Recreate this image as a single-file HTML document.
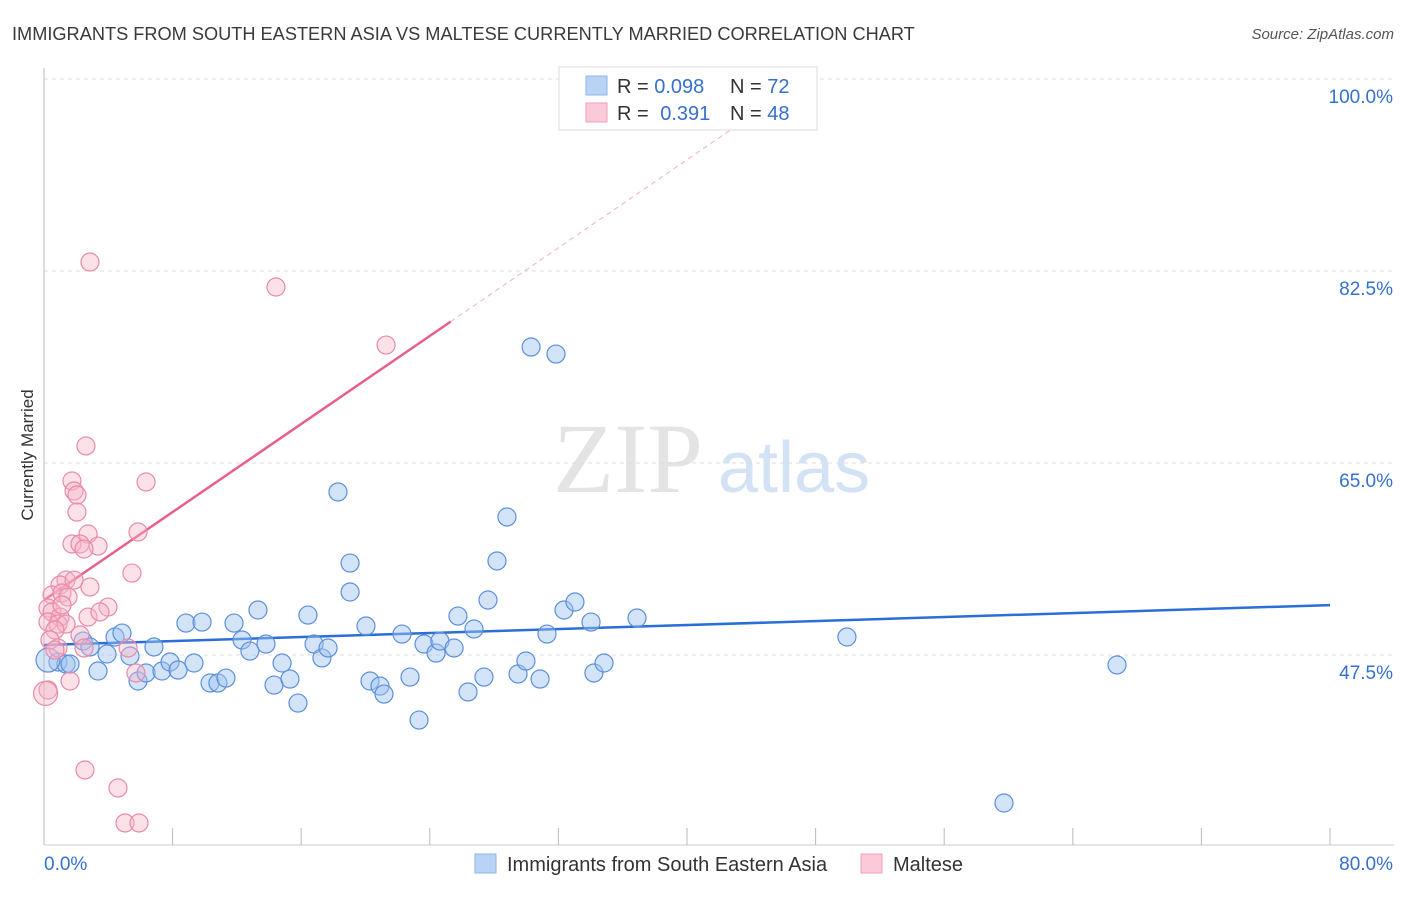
<!DOCTYPE html>
<html><head><meta charset="utf-8"><style>
body{margin:0;background:#fff;font-family:"Liberation Sans",sans-serif}
svg text{font-family:"Liberation Sans",sans-serif}
</style></head><body>
<svg id="chart" width="1406" height="892" xmlns="http://www.w3.org/2000/svg">
<text x="12" y="40" font-size="18.2" fill="#3a3a3a">IMMIGRANTS FROM SOUTH EASTERN ASIA VS MALTESE CURRENTLY MARRIED CORRELATION CHART</text>
<text x="1394" y="39" font-size="15" fill="#555" text-anchor="end" font-style="italic">Source: ZipAtlas.com</text>
<text transform="translate(33,455) rotate(-90)" font-size="17" fill="#333" text-anchor="middle">Currently Married</text>
<g><text x="553" y="492" font-size="100" fill="#e4e4e4" style="font-family:'Liberation Serif',serif">ZIP</text><text x="718" y="492" font-size="72" fill="#d3e2f5">atlas</text></g>
<g id="grid"></g><g id="ticks"></g>
<g id="lines"></g>
<g id="blue"></g><g id="pink"></g>
<g>
<rect x="559" y="67" width="258" height="63" fill="#fff" stroke="#ddd"/>
<rect x="586" y="76" width="21" height="19" fill="#b9d3f5" stroke="#8fb3e8"/>
<rect x="586" y="103" width="21" height="19" fill="#fbc9d8" stroke="#f0a0b8"/>
<text x="617" y="93" font-size="20" fill="#333">R = <tspan fill="#3570d0">0.098</tspan></text>
<text x="730" y="93" font-size="20" fill="#333">N = <tspan fill="#3570d0">72</tspan></text>
<text x="617" y="120" font-size="20" fill="#333">R = <tspan fill="#3570d0" dx="6">0.391</tspan></text>
<text x="730" y="120" font-size="20" fill="#333">N = <tspan fill="#3570d0">48</tspan></text>
</g>
<g>
<rect x="475" y="854" width="21" height="19" fill="#b9d3f5" stroke="#8fb3e8"/>
<text x="507" y="871" font-size="20" fill="#333">Immigrants from South Eastern Asia</text>
<rect x="861" y="854" width="21" height="19" fill="#fbc9d8" stroke="#f0a0b8"/>
<text x="893" y="871" font-size="20" fill="#333">Maltese</text>
</g>
<text x="44" y="870" font-size="19" fill="#3570d0">0.0%</text>
<text x="1393" y="870" font-size="19" fill="#3570d0" text-anchor="end">80.0%</text>
</svg>
<script>
const yTicks=[100,82.5,65,47.5];
const yTickLabels=["100.0%","82.5%","65.0%","47.5%"];
const blueX=[0.87,1.37,1.62,3.36,2.43,2.86,3.92,4.42,4.85,5.35,5.85,6.35,6.84,7.34,7.84,8.34,8.83,9.33,9.83,10.33,10.82,11.32,11.82,12.32,12.81,13.31,13.81,14.31,14.81,15.30,15.80,16.42,16.80,17.29,17.67,18.29,19.04,19.04,20.03,20.28,20.90,21.15,22.27,22.77,23.33,23.64,24.39,24.63,25.51,25.75,26.38,26.75,27.37,27.62,28.18,28.80,29.49,29.98,30.30,30.86,31.29,31.85,32.35,33.03,34.03,34.21,34.84,36.89,49.95,59.72,66.75,0.25];
const blueY=[46.86,46.68,46.68,46.04,48.77,48.23,47.59,49.14,49.50,47.41,45.13,45.86,48.23,46.04,46.86,46.13,50.41,46.77,50.50,44.95,44.95,45.40,50.41,48.87,47.86,51.60,48.50,44.76,46.77,45.31,43.12,51.14,48.50,47.23,48.14,62.36,55.88,53.24,50.14,45.13,44.67,43.94,49.41,45.49,41.57,48.50,47.68,48.77,48.14,51.05,44.13,49.87,45.49,52.51,56.07,60.08,45.77,46.95,75.57,45.31,49.41,74.93,51.60,52.33,50.50,45.86,46.77,50.87,49.14,34.01,46.59,47.04];
const pinkX=[2.86,14.43,21.28,2.61,1.74,6.35,1.87,2.05,2.05,5.85,2.74,1.74,2.24,3.36,2.49,1.37,1.00,1.87,5.47,2.86,0.50,1.12,1.49,3.98,0.25,0.50,1.00,2.74,0.25,0.87,1.37,2.24,2.49,0.87,5.23,5.72,1.62,0.25,2.55,4.60,5.04,5.91,0.68,3.48,1.12,0.37,0.68,0.1];
const pinkY=[83.32,81.04,75.75,66.55,63.36,63.27,62.45,62.08,60.53,58.71,58.53,57.62,57.62,57.43,57.16,54.33,53.88,54.33,54.97,53.70,52.97,53.15,52.78,51.87,51.78,51.42,50.96,50.96,50.51,50.32,50.32,49.32,48.14,48.14,48.14,45.86,45.13,44.31,37.02,35.38,32.19,32.19,49.78,51.42,52.06,48.87,47.95,44.0];
const blueTrend=[48.41,52.05];
const pinkTrend=[52.5,1.0035];
const NS="http://www.w3.org/2000/svg";
const X=v=>44+v/80*1286, Y=v=>79+(100-v)/17.5*192;
function mk(t,a,p){const e=document.createElementNS(NS,t);for(const k in a)e.setAttribute(k,a[k]);p.appendChild(e);return e;}
const g=document.getElementById('grid');
yTicks.forEach((t,i)=>{
 const l=mk('line',{x1:44,x2:1394,y1:Y(t),y2:Y(t),stroke:'#ddd','stroke-dasharray':'4,4'},g);
 
 
 const tx=mk('text',{x:1393,y:Y(t)+24,'font-size':19,fill:'#3570d0','text-anchor':'end'},g);
 tx.textContent=yTickLabels[i];
 
 
});
const tk=document.getElementById('ticks');
mk('line',{x1:44,x2:44,y1:68,y2:845,stroke:'#bbb'},tk);
mk('line',{x1:44,x2:1394,y1:845,y2:845,stroke:'#ccc'},tk);
for(let i=1;i<=10;i++){const l=mk('line',{x1:X(i*8),x2:X(i*8),y1:828,y2:845,stroke:'#bbb'},tk);
 
 }
const ln=document.getElementById('lines');
const bl=mk('line',{x1:X(0),y1:Y(blueTrend[0]),x2:X(80),y2:Y(blueTrend[1]),stroke:'#2a6fd6','stroke-width':2.5},ln);


const pe=25.3, pd=(100-pinkTrend[0])/pinkTrend[1];
const pl=mk('line',{x1:X(0),y1:Y(pinkTrend[0]),x2:X(pe),y2:Y(pinkTrend[0]+pinkTrend[1]*pe),stroke:'#e8608a','stroke-width':2.5},ln);


const pdl=mk('line',{x1:X(pe),y1:Y(pinkTrend[0]+pinkTrend[1]*pe),x2:X(pd),y2:Y(100),stroke:'#f0b0c4','stroke-width':1,'stroke-dasharray':'5,4'},ln);


const bg=document.getElementById('blue');
blueX.forEach((x,i)=>{const c=mk('circle',{cx:X(x),cy:Y(blueY[i]),r:i==71?12:9,fill:'rgba(160,195,240,0.45)',stroke:'#5b8fdc','stroke-width':1.2},bg);
 
 });
const pg=document.getElementById('pink');
pinkX.forEach((x,i)=>{const c=mk('circle',{cx:X(x),cy:Y(pinkY[i]),r:i==47?12:9,fill:'rgba(248,180,200,0.4)',stroke:'#e88aa8','stroke-width':1.2},pg);
 
 });
</script>
</body></html>
